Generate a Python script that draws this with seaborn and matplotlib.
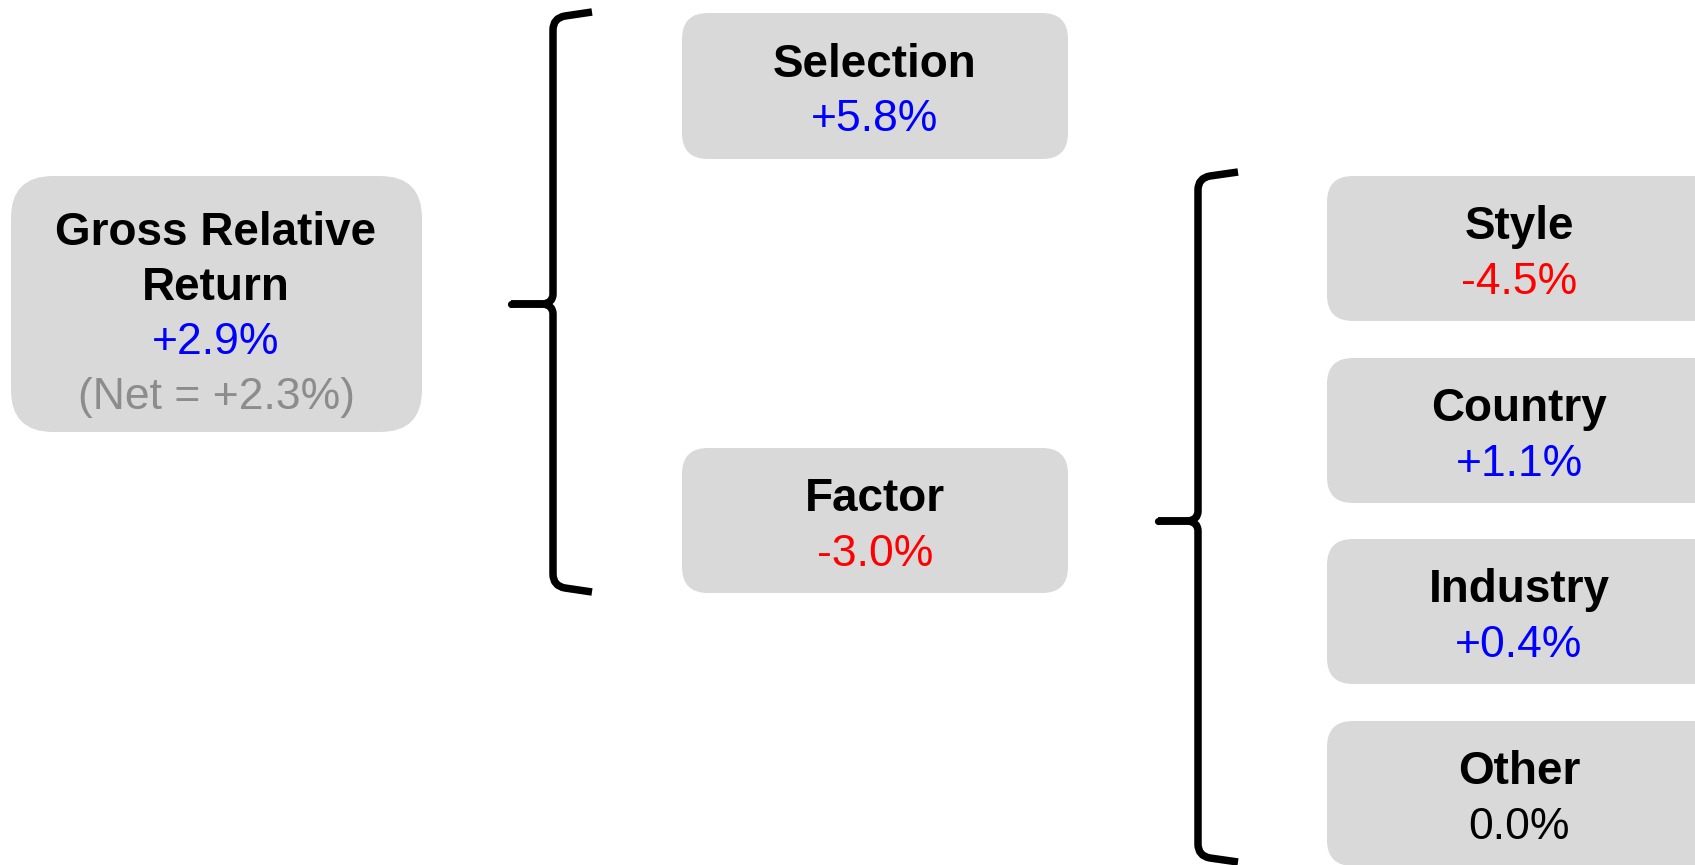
import matplotlib
matplotlib.use("Agg")
import matplotlib.pyplot as plt
import seaborn as sns
from matplotlib.patches import FancyBboxPatch, PathPatch
from matplotlib.path import Path

sns.set_theme(style="white")
plt.rcParams["font.family"] = ["Liberation Sans", "DejaVu Sans"]

# Return attribution tree
total_label = ["Gross Relative", "Return"]
total_gross = 2.9
total_net = 2.3

level1_labels = ["Selection", "Factor"]
level1_values = [5.8, -3.0]

factor_labels = ["Style", "Country", "Industry", "Other"]
factor_values = [-4.5, 1.1, 0.4, 0.0]

BOX_FILL = "#d9d9d9"
TITLE_SIZE = 33
VALUE_SIZE = 32
LINE_GAP = 55


def value_text(v):
    return "0.0%" if v == 0 else f"{v:+.1f}%"


def value_color(v):
    if v > 0:
        return "#0000ff"
    if v < 0:
        return "#ff0000"
    return "#000000"


def rounded_box(ax, x0, y0, x1, y1, r):
    ax.add_patch(FancyBboxPatch((x0, y0), x1 - x0, y1 - y0,
                                boxstyle=f"round,pad=0,rounding_size={r}",
                                fc=BOX_FILL, ec="none", zorder=1))


def put_lines(ax, cx, cy, lines):
    """lines: list of (text, colour, weight, size); cy is the visual middle."""
    n = len(lines)
    first = cy - (n - 1) * LINE_GAP / 2
    for i, (txt, col, wt, sz) in enumerate(lines):
        yc = first + i * LINE_GAP
        baseline = yc + 0.716 * sz * 100 / 72 / 2
        ax.text(cx, baseline, txt, ha="center", va="baseline", color=col,
                fontsize=sz, fontweight=wt, zorder=3)


def brace(ax, x, top, bot, tip_y, tip_x, end_x, lw=5.4):
    M, C, L = Path.MOVETO, Path.CURVE3, Path.LINETO
    upper = Path([(end_x, top), (x + 12, top + 4), (x, top + 6),
                  (x, top + 18),
                  (x, tip_y - 10), (x, tip_y - 1), (x - 10, tip_y),
                  (tip_x, tip_y)],
                 [M, L, C, C, L, C, C, L])
    lower = Path([(tip_x, tip_y), (x - 10, tip_y), (x, tip_y + 1),
                  (x, tip_y + 10), (x, bot - 18), (x, bot - 6),
                  (x + 12, bot - 4), (end_x, bot)],
                 [M, L, C, C, L, C, C, L])
    for p in (upper, lower):
        ax.add_patch(PathPatch(p, fill=False, ec="black", lw=lw,
                               capstyle="butt", joinstyle="round", zorder=2))
    ax.plot([tip_x], [tip_y], marker="o", ms=lw * 0.95, color="black",
            mec="none", zorder=2)


fig = plt.figure(figsize=(16.95, 8.65), dpi=100)
ax = fig.add_axes([0, 0, 1, 1])
ax.set_xlim(0, 1695)
ax.set_ylim(865, 0)
ax.axis("off")

# root node
rounded_box(ax, 11, 176, 422, 432, 42)
put_lines(ax, 216, 311, [
    (total_label[0], "black", "bold", TITLE_SIZE),
    (total_label[1], "black", "bold", TITLE_SIZE),
    (value_text(total_gross), value_color(total_gross), "normal", VALUE_SIZE),
    (f"(Net = {value_text(total_net)})", "#8c8c8c", "normal", VALUE_SIZE),
])

brace(ax, 553, 12, 592, 304, 511, 592)

# first split
level1_boxes = [(682, 13, 1068, 159), (682, 448, 1068, 593)]
for (x0, y0, x1, y1), lab, v in zip(level1_boxes, level1_labels, level1_values):
    rounded_box(ax, x0, y0, x1, y1, 26)
    put_lines(ax, (x0 + x1) / 2, (y0 + y1) / 2 + 2, [
        (lab, "black", "bold", TITLE_SIZE),
        (value_text(v), value_color(v), "normal", VALUE_SIZE),
    ])

brace(ax, 1198, 172, 862, 521, 1158, 1238)

# factor breakdown
factor_tops = [176, 358, 539, 721]
box_h = 145
for top, lab, v in zip(factor_tops, factor_labels, factor_values):
    rounded_box(ax, 1327, top, 1740, top + box_h, 26)
    put_lines(ax, 1519, top + box_h / 2 + 2, [
        (lab, "black", "bold", TITLE_SIZE),
        (value_text(v), value_color(v), "normal", VALUE_SIZE),
    ])

fig.savefig("out.png", dpi=100, facecolor="white")
